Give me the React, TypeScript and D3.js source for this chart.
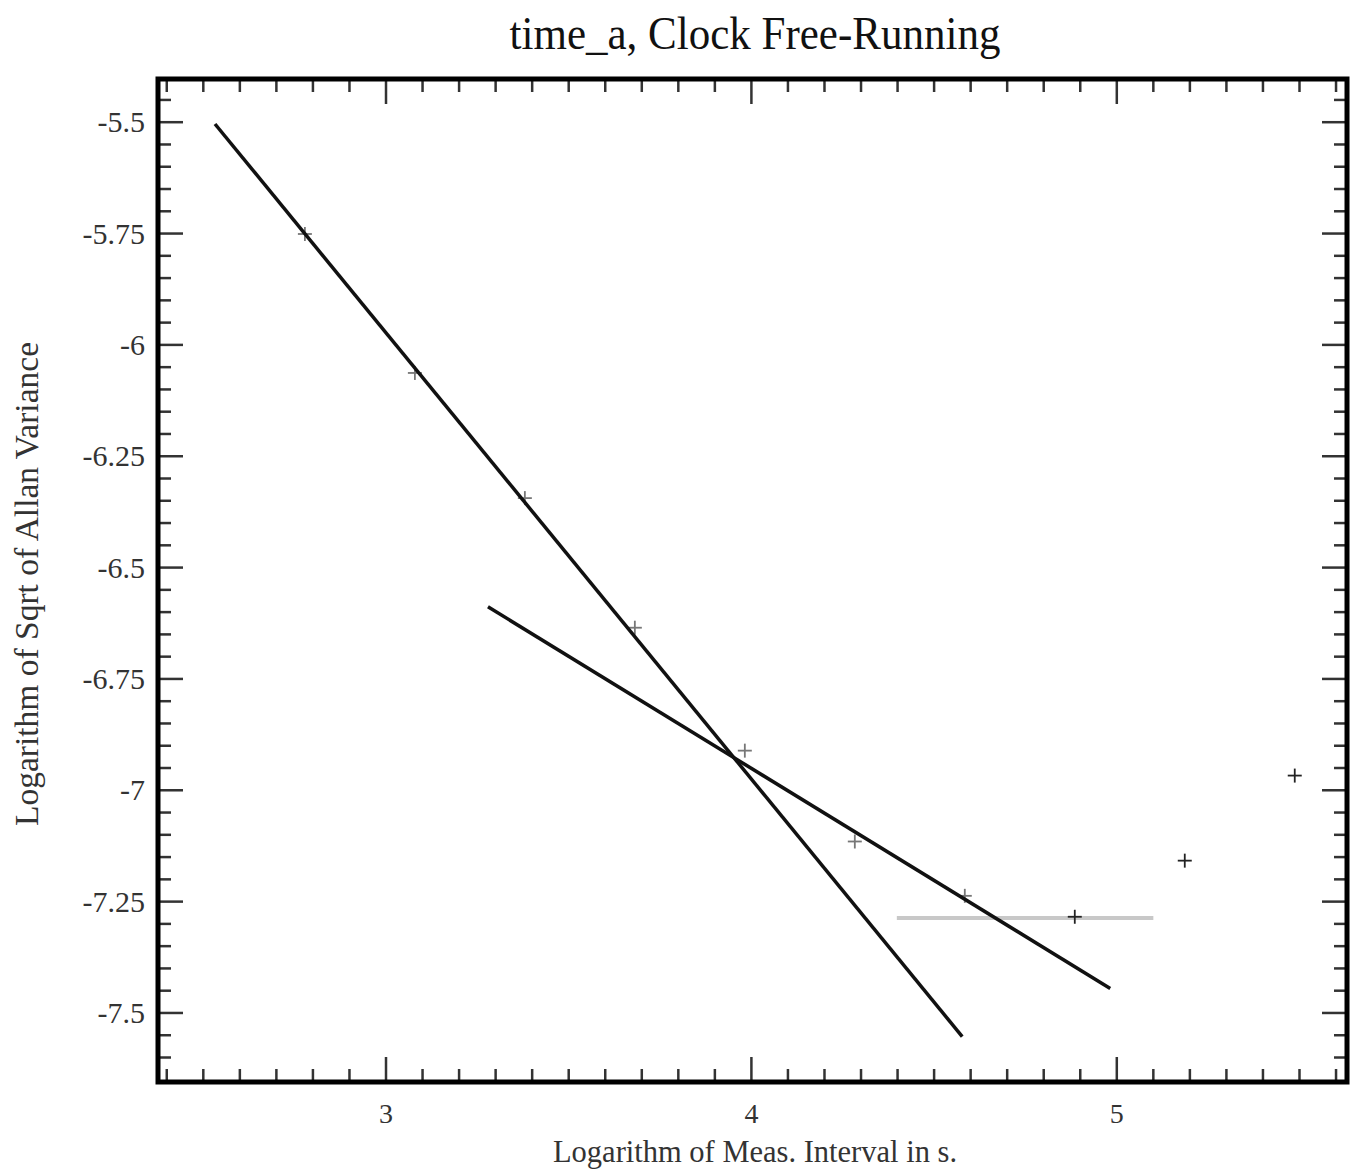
import * as d3 from "d3";
import React from "react";

// log10 of measurement interval (s) and log10 of sqrt(Allan variance)
const logTau = [2.778, 3.079, 3.38, 3.681, 3.982, 4.283, 4.584, 4.885, 5.186, 5.487];
const logSigma = [-5.751, -6.063, -6.344, -6.635, -6.911, -7.115, -7.237, -7.284, -7.158, -6.967];

// fitted lines (endpoints)
const fitSteepX = [2.532, 4.577];
const fitSteepY = [-5.504, -7.553];
const fitShallowX = [3.279, 4.982];
const fitShallowY = [-6.588, -7.445];
const floorX = [4.398, 5.1];
const floorY = [-7.287, -7.287];

const xTickLabels = ["3", "4", "5"];
const yTickLabels = ["-5.5", "-5.75", "-6", "-6.25", "-6.5", "-6.75", "-7", "-7.25", "-7.5"];

const W = 1357,
  H = 1171;
const left = 158,
  right = 1347,
  top = 79,
  bottom = 1082;

const font = "'Liberation Serif', 'Times New Roman', serif";

export default function App() {
  const x = d3.scaleLinear().domain([2.376, 5.63]).range([left, right]);
  const y = d3.scaleLinear().domain([-7.655, -5.403]).range([bottom, top]);

  const line = d3
    .line<[number, number]>()
    .x((d) => x(d[0]))
    .y((d) => y(d[1]));

  const pairs = (xs: number[], ys: number[]) => xs.map((v, i) => [v, ys[i]] as [number, number]);

  // minor ticks every 0.1 on x, every 0.05 on y
  const xMinor = d3.range(24, 57).map((i) => i / 10).filter((v) => x(v) > left + 3 && x(v) < right - 3);
  const yMinor = d3.range(-153, -107).map((i) => i / 20).filter((v) => y(v) > top + 3 && y(v) < bottom - 3);
  const isMajorX = (v: number) => Math.abs(v - Math.round(v)) < 1e-6;
  const isMajorY = (v: number) => Math.abs(v * 4 - Math.round(v * 4)) < 1e-6;

  const tickColor = "#333";

  return (
    <svg width={W} height={H} style={{ position: "absolute", left: 0, top: 0, background: "#fff" }}>
      <text
        transform="translate(755,49) scale(1,1.08)"
        textAnchor="middle"
        fontFamily={font}
        fontSize={43}
        fill="#111"
      >
        time_a, Clock Free-Running
      </text>

      {/* ticks on x (bottom and top) */}
      {xMinor.map((v, i) => {
        const len = isMajorX(v) ? 25 : 13;
        return (
          <g key={"xt" + i} stroke={tickColor} strokeWidth={2.5}>
            <line x1={x(v)} x2={x(v)} y1={bottom} y2={bottom - len} />
            <line x1={x(v)} x2={x(v)} y1={top} y2={top + len} />
          </g>
        );
      })}
      {/* ticks on y (left and right) */}
      {yMinor.map((v, i) => {
        const len = isMajorY(v) ? 25 : 13;
        return (
          <g key={"yt" + i} stroke={tickColor} strokeWidth={2.5}>
            <line x1={left} x2={left + len} y1={y(v)} y2={y(v)} />
            <line x1={right} x2={right - len} y1={y(v)} y2={y(v)} />
          </g>
        );
      })}

      {/* tick labels */}
      {xTickLabels.map((t) => (
        <text key={t} x={x(+t)} y={1123} textAnchor="middle" fontFamily={font} fontSize={28} fill="#333">
          {t}
        </text>
      ))}
      {yTickLabels.map((t) => (
        <text key={t} x={145} y={y(+t) + 10} textAnchor="end" fontFamily={font} fontSize={30} fill="#333">
          {t}
        </text>
      ))}

      {/* axis titles */}
      <text x={755} y={1162} textAnchor="middle" fontFamily={font} fontSize={30.5} fill="#333">
        Logarithm of Meas. Interval in s.
      </text>
      <text
        transform={`translate(38,584) rotate(-90)`}
        textAnchor="middle"
        fontFamily={font}
        fontSize={33.5}
        fill="#333"
      >
        Logarithm of Sqrt of Allan Variance
      </text>

      {/* floor line */}
      <path d={line(pairs(floorX, floorY)) || ""} stroke="#c8c8c8" strokeWidth={4} fill="none" />

      {/* data points */}
      {logTau.map((t, i) => (
        <g key={"p" + i} stroke={i < 7 ? "#777" : "#222"} strokeWidth={1.8}>
          <line x1={x(t) - 7} x2={x(t) + 7} y1={y(logSigma[i])} y2={y(logSigma[i])} />
          <line x1={x(t)} x2={x(t)} y1={y(logSigma[i]) - 7} y2={y(logSigma[i]) + 7} />
        </g>
      ))}

      {/* fit lines */}
      <path d={line(pairs(fitSteepX, fitSteepY)) || ""} stroke="#111" strokeWidth={3.5} fill="none" />
      <path d={line(pairs(fitShallowX, fitShallowY)) || ""} stroke="#111" strokeWidth={3.5} fill="none" />

      {/* frame */}
      <rect x={left} y={top} width={right - left} height={bottom - top} fill="none" stroke="#000" strokeWidth={5} />
    </svg>
  );
}
